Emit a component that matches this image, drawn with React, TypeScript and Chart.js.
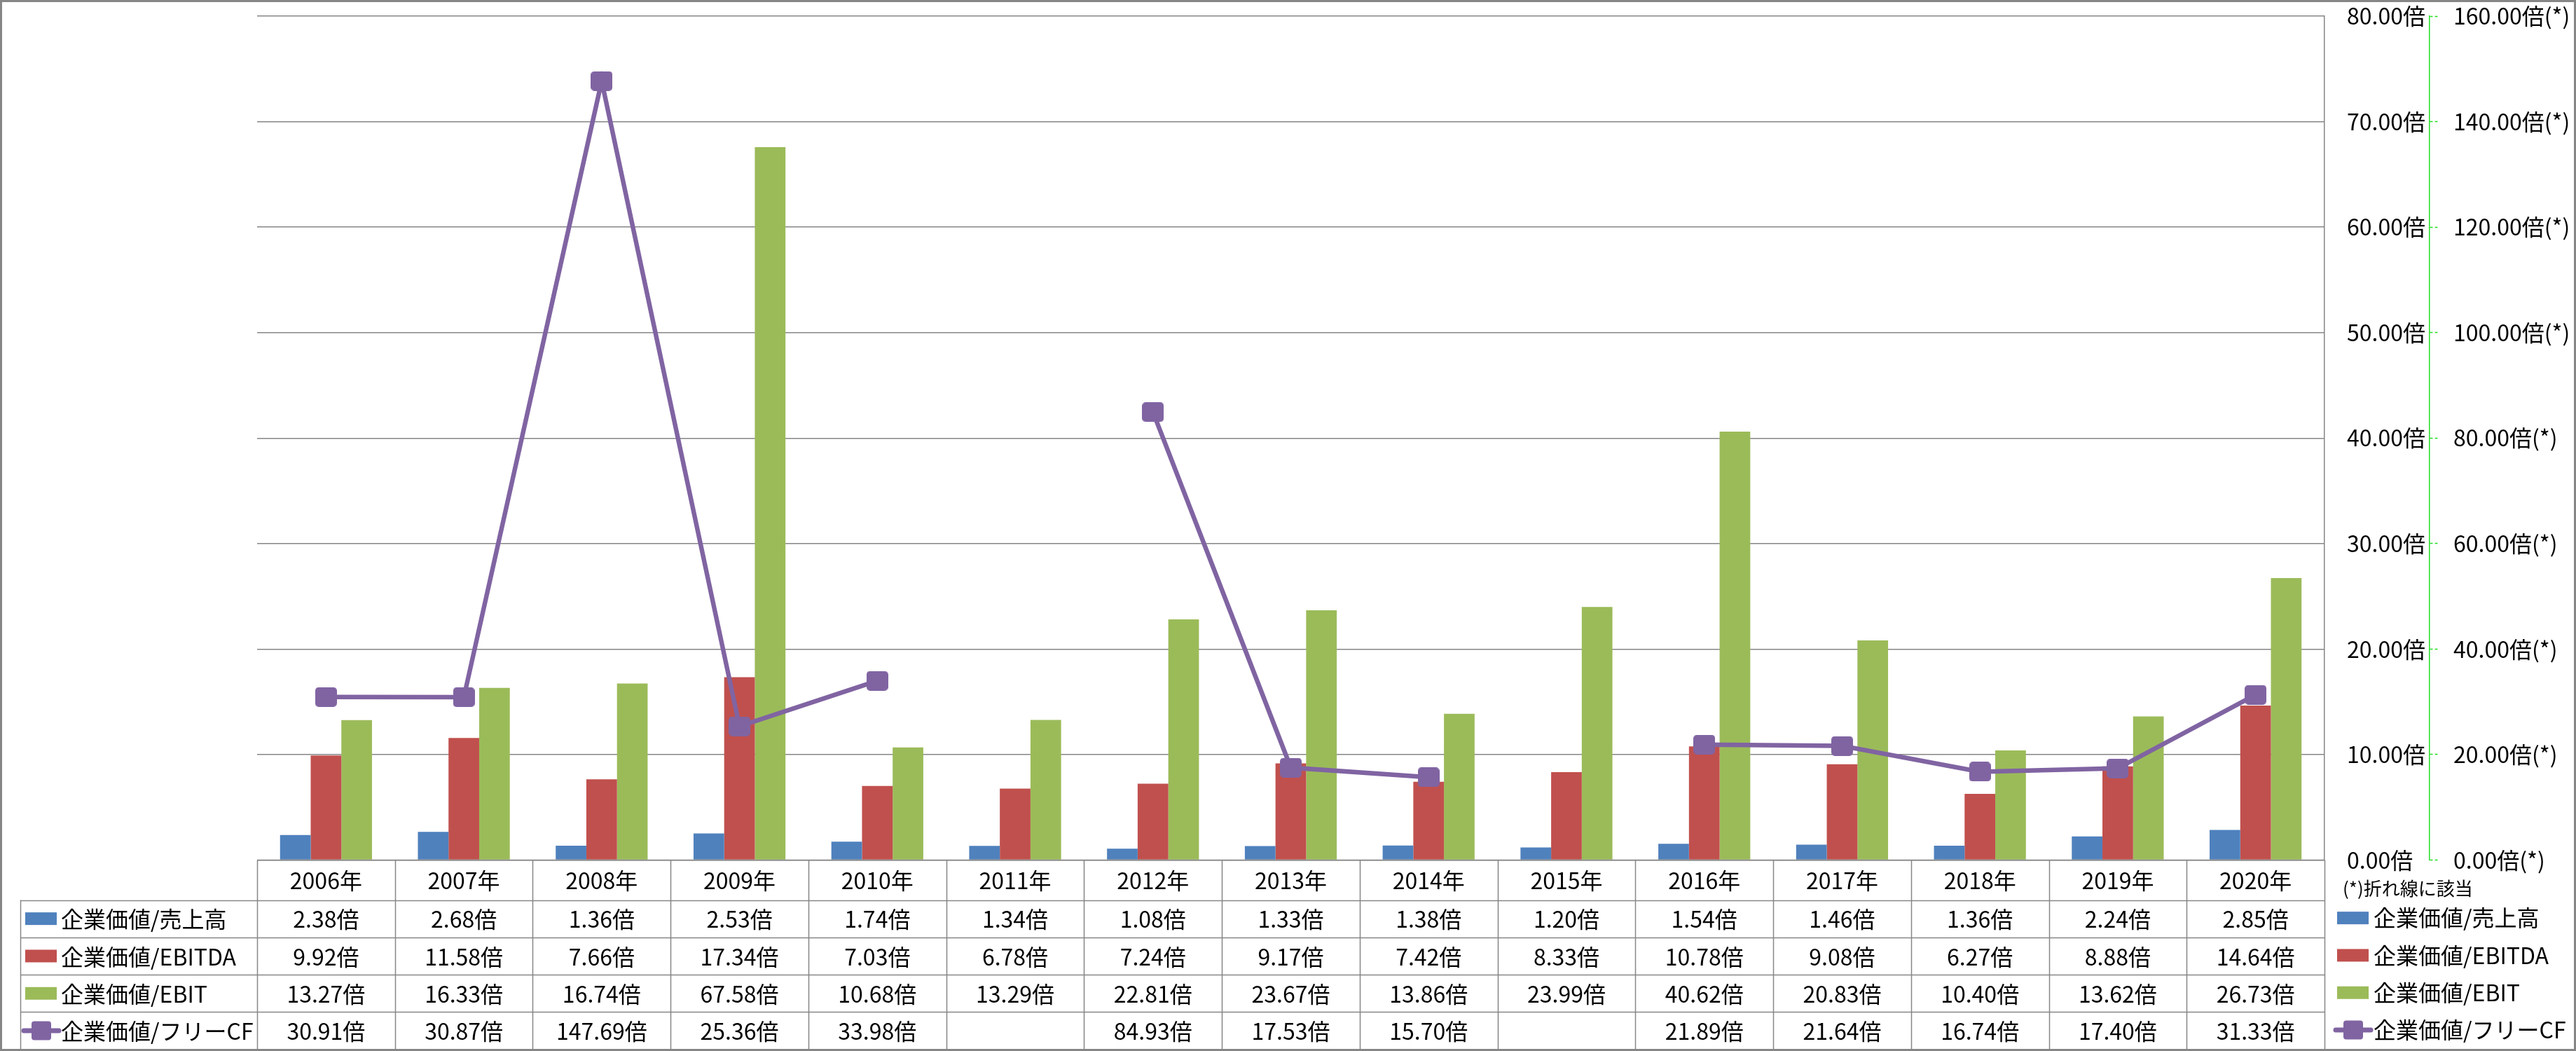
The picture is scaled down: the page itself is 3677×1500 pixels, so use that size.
import React, { useEffect, useRef } from 'react';
import { Chart, registerables } from 'chart.js';

Chart.register(...registerables);

// ---------- data ----------
const years = ['2006年', '2007年', '2008年', '2009年', '2010年', '2011年', '2012年', '2013年', '2014年', '2015年', '2016年', '2017年', '2018年', '2019年', '2020年'];
const evSales = [2.38, 2.68, 1.36, 2.53, 1.74, 1.34, 1.08, 1.33, 1.38, 1.2, 1.54, 1.46, 1.36, 2.24, 2.85];
const evEbitda = [9.92, 11.58, 7.66, 17.34, 7.03, 6.78, 7.24, 9.17, 7.42, 8.33, 10.78, 9.08, 6.27, 8.88, 14.64];
const evEbit = [13.27, 16.33, 16.74, 67.58, 10.68, 13.29, 22.81, 23.67, 13.86, 23.99, 40.62, 20.83, 10.4, 13.62, 26.73];
const evFcf: (number | null)[] = [30.91, 30.87, 147.69, 25.36, 33.98, null, 84.93, 17.53, 15.7, null, 21.89, 21.64, 16.74, 17.4, 31.33];
const seriesNames = ['企業価値/売上高', '企業価値/EBITDA', '企業価値/EBIT', '企業価値/フリーCF'];
const primaryMax = 80;
const primaryStep = 10;
const secondaryMax = 160;
const secondaryStep = 20;
const unit = '倍';
const secondaryUnit = '倍(*)';
const noteText = '(*)折れ線に該当';

// ---------- style ----------
const COLORS = ['#4F81BD', '#C0504D', '#9BBB59', '#8064A2'];
const GRID = '#868686';
const FONT = '"Noto Sans CJK JP", "Noto Sans", sans-serif';
const FS = 32;
const W = 3677;
const H = 1500;
const HEADER_H = 57;
const ROW_H = 53.3;
const TABLE_LEFT = 29;

function makeMarker(): HTMLCanvasElement {
  const c = document.createElement('canvas');
  c.width = 31;
  c.height = 28;
  const g = c.getContext('2d')!;
  g.fillStyle = COLORS[3];
  g.beginPath();
  (g as any).roundRect(0, 0, 31, 28, 5);
  g.fill();
  return c;
}

function drawKey(ctx: CanvasRenderingContext2D, idx: number, x: number, y: number) {
  if (idx < 3) {
    ctx.fillStyle = COLORS[idx];
    ctx.fillRect(x, y - 9, 45, 18);
  } else {
    ctx.strokeStyle = COLORS[3];
    ctx.lineWidth = 7;
    ctx.lineCap = 'round';
    ctx.beginPath();
    ctx.moveTo(x - 2, y);
    ctx.lineTo(x + 48, y);
    ctx.stroke();
    ctx.fillStyle = COLORS[3];
    ctx.beginPath();
    (ctx as any).roundRect(x + 9, y - 13.5, 28, 27, 4);
    ctx.fill();
  }
}

const tablePlugin = {
  id: 'dataTable',
  afterDraw(chart: any) {
    const ctx: CanvasRenderingContext2D = chart.ctx;
    const { left, right, bottom } = chart.chartArea;
    const xs = chart.scales.x;
    const n = years.length;
    const colW = (right - left) / n;
    const seriesVals = [evSales, evEbitda, evEbit, evFcf];
    const rowTop = (r: number) => bottom + HEADER_H + r * ROW_H;
    const tableBottom = rowTop(4);

    ctx.save();
    ctx.strokeStyle = GRID;
    ctx.lineWidth = 1.5;
    ctx.lineCap = 'butt';
    ctx.beginPath();
    ctx.moveTo(left, bottom);
    ctx.lineTo(right, bottom);
    for (let r = 0; r <= 4; r++) {
      const y = Math.round(rowTop(r)) + 0.5;
      ctx.moveTo(TABLE_LEFT, y);
      ctx.lineTo(right, y);
    }
    for (let k = 0; k <= n; k++) {
      const x = Math.round(left + k * colW) + 0.5;
      ctx.moveTo(x, bottom);
      ctx.lineTo(x, tableBottom);
    }
    ctx.moveTo(TABLE_LEFT + 0.5, rowTop(0));
    ctx.lineTo(TABLE_LEFT + 0.5, tableBottom);
    ctx.stroke();

    ctx.fillStyle = '#000';
    ctx.font = `${FS}px ${FONT}`;
    ctx.textAlign = 'center';
    ctx.textBaseline = 'middle';
    for (let i = 0; i < n; i++) {
      ctx.fillText(years[i], xs.getPixelForValue(i), bottom + HEADER_H / 2 + 1);
    }
    for (let r = 0; r < 4; r++) {
      const cy = rowTop(r) + ROW_H / 2 + 1;
      const vals = seriesVals[r];
      ctx.fillStyle = '#000';
      ctx.textAlign = 'center';
      for (let i = 0; i < n; i++) {
        const v = vals[i];
        if (v === null || v === undefined) continue;
        ctx.fillText(v.toFixed(2) + unit, xs.getPixelForValue(i), cy);
      }
      drawKey(ctx, r, 36, cy - 1);
      ctx.fillStyle = '#000';
      ctx.textAlign = 'left';
      ctx.fillText(seriesNames[r], 87, cy);
    }

    for (let r = 0; r < 4; r++) {
      const cy = rowTop(r) + ROW_H / 2 - 1;
      drawKey(ctx, r, 3336, cy);
      ctx.fillStyle = '#000';
      ctx.textAlign = 'left';
      ctx.font = `${FS}px ${FONT}`;
      ctx.fillText(seriesNames[r], 3388, cy);
    }
    ctx.font = `26px ${FONT}`;
    ctx.textAlign = 'left';
    ctx.fillText(noteText, 3344, bottom + 41);

    ctx.strokeStyle = GRID;
    ctx.lineWidth = 3;
    ctx.strokeRect(1.5, 1.5, W - 3, H - 3);
    ctx.restore();
  },
};

export default function App() {
  const ref = useRef<HTMLCanvasElement | null>(null);

  useEffect(() => {
    document.body.style.margin = '0';
    document.body.style.overflow = 'hidden';
    const canvas = ref.current;
    if (!canvas) return;
    const marker = makeMarker();

    const chart = new Chart(canvas, {
      type: 'bar',
      data: {
        labels: years,
        datasets: [
          {
            type: 'line',
            label: seriesNames[3],
            data: evFcf,
            yAxisID: 'y2',
            borderColor: COLORS[3],
            backgroundColor: COLORS[3],
            borderWidth: 6.5,
            pointStyle: marker as any,
            pointRadius: 15,
            pointHoverRadius: 15,
            tension: 0,
            spanGaps: false,
            order: 0,
          } as any,
          { label: seriesNames[0], data: evSales, backgroundColor: COLORS[0], yAxisID: 'y', order: 1 },
          { label: seriesNames[1], data: evEbitda, backgroundColor: COLORS[1], yAxisID: 'y', order: 1 },
          { label: seriesNames[2], data: evEbit, backgroundColor: COLORS[2], yAxisID: 'y', order: 1 },
        ],
      },
      options: {
        responsive: false,
        animation: false,
        devicePixelRatio: 1,
        layout: { padding: { left: 367, top: 23, right: 0, bottom: H - 1227.5 } },
        datasets: { bar: { categoryPercentage: 0.667, barPercentage: 1.0 } } as any,
        plugins: { legend: { display: false }, tooltip: { enabled: false } },
        scales: {
          x: { display: false, offset: true },
          y: {
            position: 'right',
            weight: 1,
            min: 0,
            max: primaryMax,
            ticks: {
              stepSize: primaryStep,
              padding: 32,
              color: '#000',
              font: { family: FONT, size: FS },
              callback: (v: any) => Number(v).toFixed(2) + unit,
            },
            grid: { color: GRID, lineWidth: 1.5, drawTicks: false },
            border: { display: true, color: GRID, width: 1.5 },
            afterFit: (s: any) => {
              s.width = 150;
              s.paddingTop = 0;
              s.paddingBottom = 0;
            },
          },
          y2: {
            position: 'right',
            weight: 2,
            min: 0,
            max: secondaryMax,
            ticks: {
              stepSize: secondaryStep,
              padding: 22,
              color: '#000',
              font: { family: FONT, size: FS },
              callback: (v: any) => Number(v).toFixed(2) + secondaryUnit,
            },
            grid: {
              drawOnChartArea: false,
              drawTicks: true,
              tickLength: 12,
              tickColor: '#22DD22',
              tickWidth: 1.5,
              tickBorderDash: [4, 3],
            },
            border: { display: true, color: '#22DD22', width: 1.5, dash: [5, 3] },
            afterFit: (s: any) => {
              s.width = 209;
              s.paddingTop = 0;
              s.paddingBottom = 0;
            },
          },
        },
      } as any,
      plugins: [tablePlugin],
    });
    return () => chart.destroy();
  }, []);

  return (
    <div style={{ width: W, height: H, background: '#fff' }}>
      <canvas ref={ref} width={W} height={H} style={{ width: W, height: H, display: 'block' }} />
    </div>
  );
}
